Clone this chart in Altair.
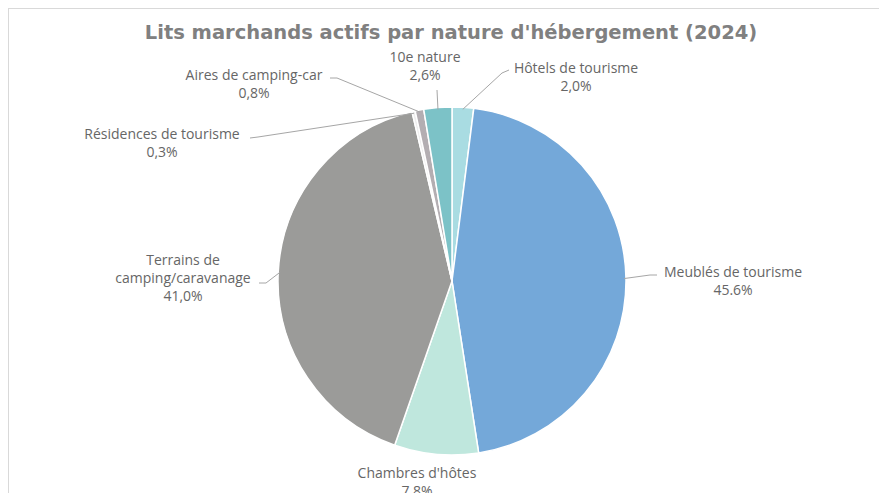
import math
import altair as alt
import pandas as pd

# ---- data (clockwise from 12 o'clock) ----
categories = ["Hôtels de tourisme", "Meublés de tourisme", "Chambres d'hôtes",
              "Terrains de camping/caravanage", "Résidences de tourisme",
              "Aires de camping-car", "10e nature"]
shares = [2.0, 45.6, 7.8, 41.0, 0.3, 0.8, 2.6]
label_texts = ["Hôtels de tourisme\n2,0%", "Meublés de tourisme\n45.6%",
               "Chambres d'hôtes\n7,8%", "Terrains de\ncamping/caravanage\n41,0%",
               "Résidences de tourisme\n0,3%", "Aires de camping-car\n0,8%",
               "10e nature\n2,6%"]
colors = ["#a9dce2", "#74a8d9", "#bfe7dd", "#9b9b99", "#eeeeee", "#b3aeb2", "#7cc2c7"]

# ---- layout (chart pixel coordinates) ----
W, H = 871, 485
CX, CY, R = 444, 273, 174
label_pos = [(568, 60), (725, 264), (409, 465), (175, 252), (154, 126), (246, 67), (417, 49)]
elbows = [[(501, 62), (494, 65)], [(649, 267), (642, 267)], None, [(251, 275), (258, 275)],
          [(242, 130), (250, 129)], [(322, 70), (329, 70)], [(429, 82)]]
LH = 18
FS = 14

df = pd.DataFrame({"cat": categories, "share": shares, "ord": list(range(len(categories))),
                   "color": colors})
df["txt"] = label_texts
df["lx"] = [p[0] for p in label_pos]
df["ly"] = [p[1] - 6 for p in label_pos]

# leader lines: from label elbow to pie edge at slice mid-angle
total = sum(shares)
rows = []
cum = 0.0
for i, (c, v) in enumerate(zip(categories, shares)):
    mid = (cum + v / 2) / total * 2 * math.pi
    cum += v
    if elbows[i] is None:
        continue
    pts = list(elbows[i]) + [(CX + (R - 2) * math.sin(mid), CY - (R - 2) * math.cos(mid))]
    for k, (px, py) in enumerate(pts):
        rows.append({"cat": c, "k": k, "px": px, "py": py})
lines_df = pd.DataFrame(rows)

pie = alt.Chart(df).mark_arc(outerRadius=R, stroke="white", strokeWidth=1.5).encode(
    theta=alt.Theta("share:Q", stack=True),
    order=alt.Order("ord:Q"),
    color=alt.Color("color:N", scale=None),
    x=alt.value(CX), y=alt.value(CY),
)

leaders = alt.Chart(lines_df).mark_line(color="#a6a6a6", strokeWidth=1).encode(
    x=alt.X("px:Q", scale=None), y=alt.Y("py:Q", scale=None),
    detail="cat:N", order="k:Q",
)

labels = alt.Chart(df).mark_text(
    font="Open Sans", fontSize=FS, color="#666666", align="center", baseline="top",
    lineBreak="\n", lineHeight=LH,
).encode(x=alt.X("lx:Q", scale=None), y=alt.Y("ly:Q", scale=None), text="txt:N")

title = alt.Chart(pd.DataFrame({"t": ["Lits marchands actifs par nature d'hébergement (2024)"]})).mark_text(
    font="DejaVu Sans", fontWeight="bold", fontSize=19.5, color="#808080",
    align="center", baseline="middle",
).encode(x=alt.value(443), y=alt.value(25), text="t:N")

frame_top = alt.Chart(pd.DataFrame({"a": [0]})).mark_rule(color="#d9d9d9", strokeWidth=1).encode(
    x=alt.value(0), x2=alt.value(W), y=alt.value(0.5))
frame_left = alt.Chart(pd.DataFrame({"a": [0]})).mark_rule(color="#d9d9d9", strokeWidth=1).encode(
    x=alt.value(0.5), y=alt.value(0), y2=alt.value(H))

chart = alt.layer(frame_top, frame_left, pie, leaders, labels, title).properties(
    width=W, height=H, autosize=alt.AutoSizeParams(type="none"), padding=0,
).configure_view(stroke=None)

chart.save("out.html", embed_options={"renderer": "svg", "actions": False})
